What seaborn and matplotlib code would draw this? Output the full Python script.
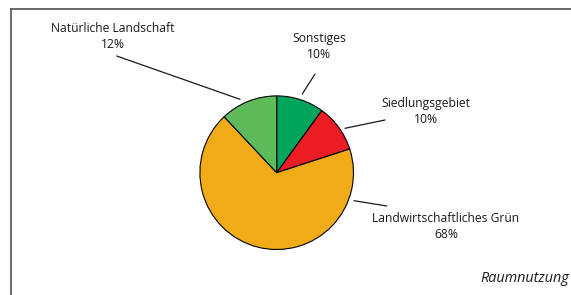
import matplotlib
matplotlib.use("Agg")
import matplotlib.pyplot as plt
import seaborn as sns

# Data
categories = ["Sonstiges", "Siedlungsgebiet", "Landwirtschaftliches Grün", "Natürliche Landschaft"]
values = [10, 10, 68, 12]
pct_labels = ["10%", "10%", "68%", "12%"]
colors = ["#00A55B", "#EC1C24", "#F0AB17", "#5EBB5A"]
title = "Raumnutzung"

sns.set_theme(style="white")
plt.rcParams['font.family'] = ['Open Sans', 'DejaVu Sans']

W, H = 571, 295
fig = plt.figure(figsize=(W / 100, H / 100), dpi=100)
ax = fig.add_axes([0, 0, 1, 1])
ax.set_xlim(0, W)
ax.set_ylim(0, H)
ax.set_aspect('equal')
ax.axis('off')

def Y(y):
    return H - y

# frame
ax.plot([11, 11], [Y(9), Y(300)], color="#5f5f5f", lw=1.3, solid_capstyle='projecting')
ax.plot([11, 580], [Y(9), Y(9)], color="#5f5f5f", lw=1.3, solid_capstyle='projecting')

# pie
cx, cy, r = 276.7, 172.7, 76.8
ax.pie(values, colors=colors, startangle=90, counterclock=False,
       center=(cx, Y(cy)), radius=r, frame=True,
       wedgeprops=dict(edgecolor="black", linewidth=0.8))
ax.set_xlim(0, W)
ax.set_ylim(0, H)
ax.axis('off')

# label positions (pixel coords) and leader lines
label_pos = [(319, 38.5, 54.5), (426, 103, 119.5), (446, 218, 235), (112.5, 28, 45)]
leaders = [((315, 74), (302.3, 94)), ((385, 120), (345, 128.3)),
           ((386.7, 206), (354, 200.7)), ((116.7, 56), (240, 99.3))]

fs = 8.7
for cat, pct, (lx, y1, y2), (p0, p1) in zip(categories, pct_labels, label_pos, leaders):
    ax.text(lx, Y(y1), cat, ha='center', va='center', fontsize=fs, color="#1a1a1a")
    ax.text(lx, Y(y2), pct, ha='center', va='center', fontsize=fs, color="#1a1a1a")
    ax.plot([p0[0], p1[0]], [Y(p0[1]), Y(p1[1])], color="#1a1a1a", lw=0.9)

ax.text(569, Y(278), title, ha='right', va='center', fontsize=10.4, style='italic', color="#1a1a1a")

fig.savefig("out.png", dpi=100)
